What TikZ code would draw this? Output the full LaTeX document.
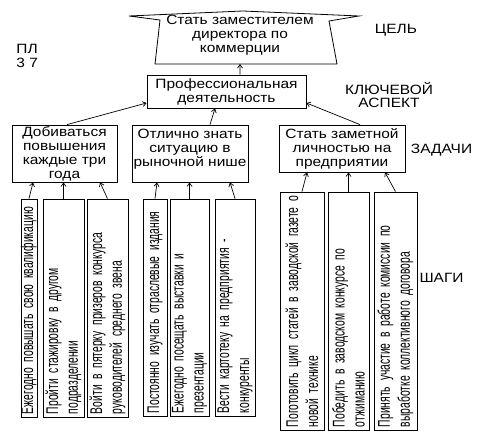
\documentclass[tikz,border=0pt]{standalone}
\usepackage{fontspec}
\setmainfont{Liberation Sans}
\newfontfamily\hfont[FakeStretch=1.15]{Liberation Sans}
\newfontfamily\vfont[FakeStretch=0.61]{Liberation Sans}
\usetikzlibrary{arrows.meta}
\begin{document}
\begin{tikzpicture}[x=1bp,y=-1bp,
  line width=0.8bp,
  hf/.style={font={\hfont\fontsize{13.5}{14}\selectfont}},
  taskbox/.style={draw, hf, align=center, inner sep=1bp},
  stepbox/.style={draw, rotate=90, align=left, inner xsep=3bp, inner ysep=1bp,
     font={\vfont\fontsize{17}{20}\selectfont}},
  lbl/.style={hf, align=center, inner sep=0pt},
  arr/.style={-{Straight Barb[length=3.5bp,width=5bp]}, line width=0.7bp}]
\useasboundingbox (0,0) rectangle (480,442);
% goal shape
\draw (129,16) -- (243,11) -- (359,16) -- (329,21) -- (337,64) -- (155,64) -- (160,20) -- cycle;
\node[lbl] (goal) at (240,35) {Стать заместителем\\директора по\\коммерции};
\coordinate (goalbot) at (240,64);
% key aspect
\node[taskbox, minimum width=159bp, minimum height=33bp] (prof) at (226.5,91.5)
  {Профессиональная\\деятельность};
% tasks
\node[taskbox, minimum width=105bp, minimum height=57bp] (t1) at (64.5,153.5)
  {Добиваться\\повышения\\каждые три\\года};
\node[taskbox, minimum width=116bp, minimum height=57bp] (t2) at (190,153.5)
  {Отлично знать\\ситуацию в\\рыночной нише\\[-3pt]\mbox{}};
\node[taskbox, minimum width=126bp, minimum height=47bp] (t3) at (342,148.5)
  {Стать заметной\\личностью на\\предприятии};
% steps
\node[stepbox, minimum width=218bp, minimum height=16bp, text width=212bp,
      text height=10bp, text depth=2bp, inner ysep=0.5bp] (s1) at (29,308)
  {\mbox{Ежегодно повышать свою квалификацию}};
\node[stepbox, minimum width=218bp, minimum height=41bp, text width=212bp] (s2) at (63.5,308)
  {\mbox{Пройти стажировку в другом}\\\mbox{подразделении}};
\node[stepbox, minimum width=218bp, minimum height=41bp, text width=212bp] (s3) at (107.5,308)
  {\mbox{Войти в пятерку призеров конкурса}\\\mbox{руководителей среднего звена}};
\node[stepbox, minimum width=217bp, minimum height=24bp, text width=211bp] (s4) at (155,307.5)
  {\mbox{Постоянно изучать отраслевые издания}};
\node[stepbox, minimum width=217bp, minimum height=39bp, text width=211bp] (s5) at (189.5,307.5)
  {\mbox{Ежегодно посещать выставки и}\\\mbox{презентации}};
\node[stepbox, minimum width=217bp, minimum height=40bp, text width=211bp] (s6) at (235,307.5)
  {\mbox{Вести картотеку на предприятия -}\\\mbox{конкуренты}};
\node[stepbox, minimum width=238bp, minimum height=44bp, text width=232bp] (s7) at (302,311)
  {\mbox{Поготовить цикл статей в заводской газете о}\\\mbox{новой технике}};
\node[stepbox, minimum width=238bp, minimum height=41bp, text width=232bp] (s8) at (348.5,311)
  {\mbox{Победить в заводском конкурсе по}\\\mbox{отжиманию}};
\node[stepbox, minimum width=238bp, minimum height=43bp, text width=232bp] (s9) at (395.5,311)
  {\mbox{Принять участие в работе комиссии по}\\\mbox{выработке коллективного договора}};
% labels
\node[lbl] (lgoal) at (396,30) {ЦЕЛЬ};
\node[lbl] (lkey) at (389,95) {КЛЮЧЕВОЙ\\АСПЕКТ};
\node[lbl] (ltask) at (441.5,150) {ЗАДАЧИ};
\node[lbl] (lstep) at (441.5,278) {ШАГИ};
\node[lbl, align=left, anchor=west] (lpl) at (16,56) {ПЛ\\3 7};
% connectors
\draw[arr] ([xshift=13.5bp]prof.north) -- (goalbot);
\draw[arr] ([xshift=2.5bp]t1.north) -- ([yshift=-11.5bp]prof.west);
\draw[arr] ([xshift=20bp]t2.north) -- ([xshift=-11.5bp]prof.south);
\draw[arr] ([xshift=18bp]t3.north) -- ([yshift=-11.5bp]prof.east);
\draw[arr] (s1.east) -- ([xshift=-31.5bp]t1.south);
\draw[arr] (s2.east) -- (s2.east |- t1.south);
\draw[arr] (s3.east) -- ([xshift=35.5bp]t1.south);
\draw[arr] (s4.east) -- ([xshift=-33bp]t2.south);
\draw[arr] (s5.east) -- (s5.east |- t2.south);
\draw[arr] (s6.east) -- ([xshift=40bp]t2.south);
\draw[arr] (s7.east) -- ([xshift=-35bp]t3.south);
\draw[arr] (s8.east) -- (s8.east |- t3.south);
\draw[arr] (s9.east) -- ([xshift=43bp]t3.south);
\end{tikzpicture}
\end{document}
